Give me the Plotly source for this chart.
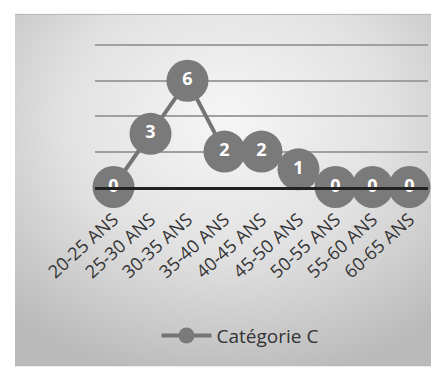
import base64
import plotly.graph_objects as go

categories = ["20-25 ANS", "25-30 ANS", "30-35 ANS", "35-40 ANS", "40-45 ANS",
              "45-50 ANS", "50-55 ANS", "55-60 ANS", "60-65 ANS"]
values_c = [0, 3, 6, 2, 2, 1, 0, 0, 0]
series_name = "Catégorie C"

OFF = 8  # page body margin
W, H = 439 - OFF, 367 - OFF
YMAX = 8.3
BOTTOM = 187 - OFF
PH = (187 - 45) * YMAX / 8
L, T = 95 - OFF, BOTTOM - PH
R = 11
B = H - BOTTOM
pw, ph = W - L - R, PH

def px_x(px):
    return (px - OFF - L) / pw

def px_y(py):
    return (BOTTOM - (py - OFF)) / ph

svg = ("<svg xmlns='http://www.w3.org/2000/svg' width='424' height='353' preserveAspectRatio='none'>"
       "<defs><radialGradient id='g' cx='50%' cy='30%' r='75%'>"
       "<stop offset='0' stop-color='#f6f6f6'/><stop offset='0.5' stop-color='#e2e2e2'/>"
       "<stop offset='1' stop-color='#bababa'/></radialGradient></defs>"
       "<rect width='100%' height='100%' fill='url(#g)'/></svg>")
bg_src = "data:image/svg+xml;base64," + base64.b64encode(svg.encode()).decode()

fig = go.Figure()
fig.add_trace(go.Scatter(
    x=categories, y=values_c, name=series_name,
    mode="lines+markers+text",
    text=[str(v) for v in values_c],
    textposition="middle center",
    textfont=dict(family="Open Sans", size=18, color="white", weight="bold"),
    line=dict(color="#747474", width=4),
    marker=dict(size=42, color="#7a7a7a"),
    cliponaxis=False,
))

fig.update_layout(
    width=W, height=H,
    margin=dict(l=L, r=R, t=T, b=B),
    paper_bgcolor="white",
    plot_bgcolor="rgba(0,0,0,0)",
    showlegend=True,
    legend=dict(orientation="h", x=px_x(240), xanchor="center", y=px_y(336), yanchor="middle",
                font=dict(family="Open Sans", size=19, color="#333333"),
                bgcolor="rgba(0,0,0,0)", itemwidth=50),
    xaxis=dict(type="category", range=[-0.5, len(categories) - 0.5], tickangle=-42,
               showgrid=False, showline=True, linecolor="#222222", linewidth=3,
               ticks="", ticklabelstandoff=12,
               tickfont=dict(family="Open Sans", size=18, color="#333333")),
    yaxis=dict(range=[0, YMAX], dtick=2, showticklabels=False, showgrid=True,
               gridcolor="#a0a0a0", gridwidth=1.5, zeroline=False, showline=False),
    images=[dict(source=bg_src, xref="paper", yref="paper",
                 x=px_x(15), y=px_y(14), sizex=px_x(439) - px_x(15), sizey=px_y(14) - px_y(367),
                 xanchor="left", yanchor="top", sizing="stretch", layer="below")],
    shapes=[dict(type="line", xref="paper", yref="paper",
                 x0=px_x(15), x1=px_x(439), y0=px_y(14), y1=px_y(14),
                 line=dict(color="#b0b0b0", width=1))],
)

fig.write_html("out.html")
